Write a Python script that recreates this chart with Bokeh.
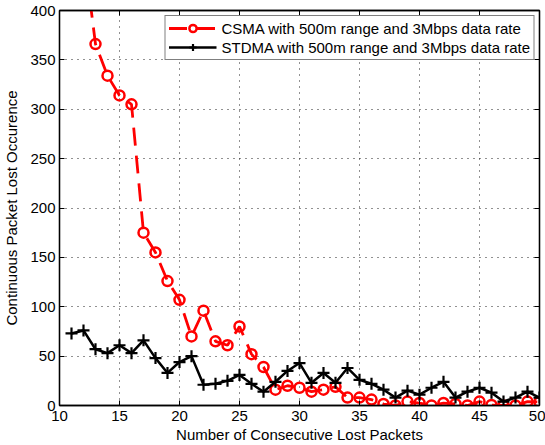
from bokeh.plotting import figure
from bokeh.models import LinearAxis, Legend, LegendItem, Range1d, FixedTicker
from bokeh.embed import file_html
from bokeh.resources import INLINE

packets = list(range(11, 51))
csma = [580, 462, 366, 334, 314, 305, 175, 155, 126, 107, 70, 96, 65, 61, 80, 52, 39, 16, 20, 18,
        14, 16, 19, 8, 8, 6, 1.5, 0, 4, 2.5, 0, 2.5, 1.5, 0, 4, 0.5, 0, 0, 4, 3.5]
stdma = [73, 76, 57, 53, 61, 53, 66, 48, 33, 44, 50, 21, 22, 25, 31, 22, 14, 24, 35, 43,
         23, 33, 23, 38, 26, 22, 16, 8, 15, 11, 18, 24, 8, 14, 18, 13, 4, 8, 14, 8]
x_ticks = [10, 15, 20, 25, 30, 35, 40, 45, 50]
y_ticks = [0, 50, 100, 150, 200, 250, 300, 350, 400]
csma_label = "CSMA with 500m range and 3Mbps data rate"
stdma_label = "STDMA with 500m range and 3Mbps data rate"

FONT = "Liberation Sans"
FS = "15px"

p = figure(width=545, height=445, output_backend="svg", toolbar_location=None,
           x_range=Range1d(10, 50), y_range=Range1d(0, 400),
           x_axis_location=None, y_axis_location=None,
           min_border_left=58, min_border_right=6, min_border_top=10, min_border_bottom=40)
p.background_fill_color = "white"
p.border_fill_color = "white"
p.outline_line_color = "black"
p.outline_line_width = 1.3

bottom_ax = LinearAxis(ticker=FixedTicker(ticks=x_ticks),
                       axis_label="Number of Consecutive Lost Packets")
left_ax = LinearAxis(ticker=FixedTicker(ticks=y_ticks),
                     axis_label="Continuous Packet Lost Occurence")
top_ax = LinearAxis(ticker=FixedTicker(ticks=x_ticks))
right_ax = LinearAxis(ticker=FixedTicker(ticks=y_ticks))
p.add_layout(bottom_ax, "below")
p.add_layout(left_ax, "left")
p.add_layout(top_ax, "above")
p.add_layout(right_ax, "right")

for ax in (bottom_ax, left_ax, top_ax, right_ax):
    ax.major_tick_in = 5
    ax.major_tick_out = 0
    ax.minor_tick_in = 0
    ax.minor_tick_out = 0
    ax.axis_line_color = "black"
    ax.axis_line_width = 1.3
    ax.major_tick_line_color = "black"
    ax.major_label_text_font = FONT
    ax.major_label_text_font_size = FS
    ax.major_label_text_color = "black"
    ax.axis_label_text_font = FONT
    ax.axis_label_text_font_size = FS
    ax.axis_label_text_font_style = "normal"
    ax.axis_label_text_color = "black"

top_ax.major_label_overrides = {t: "" for t in x_ticks}
right_ax.major_label_overrides = {t: "" for t in y_ticks}
top_ax.major_label_standoff = 0
right_ax.major_label_standoff = 0

bottom_ax.major_label_standoff = 5
bottom_ax.axis_label_standoff = 2
left_ax.major_label_standoff = 4
left_ax.axis_label_standoff = 7

p.xgrid.ticker = FixedTicker(ticks=x_ticks)
p.ygrid.ticker = FixedTicker(ticks=y_ticks)
for g in (p.xgrid[0], p.ygrid[0]):
    g.grid_line_color = "#222222"
    g.grid_line_dash = "1 5"
    g.grid_line_width = 1

l1 = p.line(packets, csma, line_color="red", line_width=2.8, line_dash="18 10")
s1 = p.scatter(packets, csma, marker="circle", size=10, line_color="red", line_width=2.5,
               fill_color=None)
l2 = p.line(packets, stdma, line_color="black", line_width=2.5)
s2 = p.scatter(packets, stdma, marker="cross", size=12, line_color="black", line_width=2.2)

legend = Legend(items=[LegendItem(label=csma_label, renderers=[l1, s1]),
                       LegendItem(label=stdma_label, renderers=[l2, s2])],
                location="top_right")
legend.label_text_font = FONT
legend.label_text_font_size = FS
legend.label_text_color = "black"
legend.border_line_color = "black"
legend.border_line_width = 1
legend.background_fill_alpha = 1
legend.glyph_width = 48
legend.glyph_height = 18
legend.label_height = 18
legend.label_width = 308
legend.label_standoff = 5
legend.spacing = 1
legend.padding = 3
legend.margin = 5
p.add_layout(legend)

open("out.html", "w").write(file_html(p, INLINE))
